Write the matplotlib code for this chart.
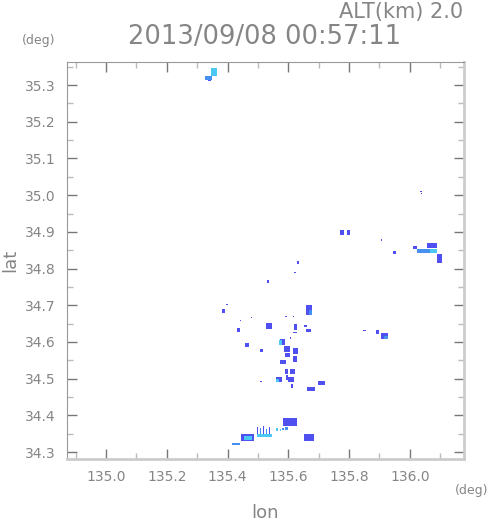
import numpy as np
import matplotlib
matplotlib.use('Agg')
from matplotlib import pyplot as plt
from matplotlib.colors import ListedColormap, BoundaryNorm

# echo cells: lon0, lon1, lat0, lat1, level (1=blue, 2=mid blue, 3=cyan)
lon0 = [135.345, 135.326, 135.335,
        136.033, 136.036, 135.905, 135.944, 136.010, 136.056, 136.023, 136.066, 136.089,
        135.770, 135.793, 135.845, 135.888, 135.905, 135.915,
        135.628, 135.618, 135.530, 135.395, 135.382, 135.658, 135.668, 135.441, 135.477,
        135.526, 135.431, 135.589, 135.615, 135.618, 135.615, 135.651, 135.658, 135.457,
        135.507, 135.572, 135.569, 135.605, 135.586, 135.615, 135.589, 135.615, 135.572,
        135.572, 135.589, 135.605, 135.592, 135.559, 135.559, 135.599, 135.507, 135.609,
        135.661, 135.697,
        135.414, 135.444, 135.454, 135.497, 135.507, 135.516, 135.526, 135.536, 135.497,
        135.559, 135.572, 135.579, 135.589, 135.582, 135.602, 135.651]
lon1 = [135.365, 135.350, 135.345,
        136.039, 136.040, 135.908, 135.954, 136.023, 136.089, 136.080, 136.089, 136.105,
        135.783, 135.803, 135.855, 135.898, 135.928, 135.928,
        135.635, 135.625, 135.536, 135.401, 135.391, 135.678, 135.678, 135.444, 135.480,
        135.546, 135.441, 135.595, 135.618, 135.628, 135.628, 135.661, 135.674, 135.470,
        135.516, 135.589, 135.579, 135.609, 135.605, 135.632, 135.605, 135.628, 135.592,
        135.579, 135.599, 135.622, 135.599, 135.579, 135.569, 135.618, 135.514, 135.615,
        135.688, 135.720,
        135.441, 135.487, 135.480, 135.501, 135.511, 135.520, 135.530, 135.540, 135.546,
        135.566, 135.576, 135.586, 135.599, 135.628, 135.625, 135.684]
lat0 = [35.325, 35.314, 35.312,
        35.008, 35.002, 34.876, 34.840, 34.853, 34.855, 34.842, 34.842, 34.815,
        34.891, 34.891, 34.630, 34.622, 34.608, 34.608,
        34.812, 34.787, 34.760, 34.700, 34.680, 34.673, 34.673, 34.656, 34.664,
        34.635, 34.627, 34.667, 34.667, 34.632, 34.623, 34.641, 34.627, 34.586,
        34.572, 34.592, 34.592, 34.608, 34.572, 34.567, 34.559, 34.545, 34.540,
        34.520, 34.513, 34.513, 34.496, 34.491, 34.491, 34.491, 34.492, 34.474,
        34.466, 34.483,
        34.319, 34.330, 34.333, 34.341, 34.341, 34.341, 34.341, 34.341, 34.341,
        34.357, 34.357, 34.360, 34.360, 34.371, 34.380, 34.330]
lat1 = [35.346, 35.325, 35.320,
        35.011, 35.005, 34.880, 34.848, 34.862, 34.869, 34.853, 34.853, 34.840,
        34.905, 34.905, 34.633, 34.632, 34.624, 34.615,
        34.820, 34.790, 34.769, 34.703, 34.690, 34.701, 34.687, 34.659, 34.667,
        34.651, 34.638, 34.670, 34.670, 34.649, 34.626, 34.646, 34.635, 34.597,
        34.581, 34.608, 34.605, 34.613, 34.589, 34.583, 34.570, 34.562, 34.551,
        34.522, 34.526, 34.526, 34.510, 34.504, 34.500, 34.504, 34.494, 34.485,
        34.477, 34.493,
        34.325, 34.349, 34.344, 34.368, 34.366, 34.370, 34.364, 34.368, 34.349,
        34.366, 34.364, 34.366, 34.368, 34.392, 34.393, 34.349]
level = [3, 2, 1,
         1, 1, 1, 1, 1, 1, 2, 3, 1,
         1, 1, 1, 1, 1, 2,
         1, 1, 1, 1, 1, 1, 2, 1, 1,
         1, 1, 1, 1, 1, 1, 1, 1, 1,
         1, 1, 3, 1, 1, 1, 1, 1, 1,
         1, 1, 1, 1, 1, 3, 1, 1, 1,
         1, 1,
         2, 1, 3, 1, 2, 1, 2, 1, 3,
         3, 3, 2, 2, 1, 1, 1]

xticks = [135.0, 135.2, 135.4, 135.6, 135.8, 136.0]
yticks = [34.3, 34.4, 34.5, 34.6, 34.7, 34.8, 34.9, 35.0, 35.1, 35.2, 35.3]

# grid
lon_e = np.arange(134.872, 136.178 + 1e-9, 1 / 304.)
lat_e = np.arange(34.281, 35.363 + 1e-9, 1 / 367.)
lon_c = 0.5 * (lon_e[1:] + lon_e[:-1])
lat_c = 0.5 * (lat_e[1:] + lat_e[:-1])
LON, LAT = np.meshgrid(lon_c, lat_c)
field = np.zeros(LON.shape)
for a, b, c, d, v in zip(lon0, lon1, lat0, lat1, level):
    m = (LON >= a) & (LON <= b) & (LAT >= c) & (LAT <= d)
    field[m] = np.maximum(field[m], v)
field = np.ma.masked_equal(field, 0)

cmap = ListedColormap(['#5050f0', '#4690f2', '#48c8f2'])
norm = BoundaryNorm([0.5, 1.5, 2.5, 3.5], 3)

fig = plt.figure(figsize=(4.91, 5.21), dpi=100)
ax = fig.add_axes([67 / 491., 62 / 521., 397 / 491., 397 / 521.])
ax.pcolormesh(lon_e, lat_e, field, cmap=cmap, norm=norm)
ax.set_xlim(134.872, 136.178)
ax.set_ylim(34.281, 35.363)

gray = '#858585'
ax.set_xticks(xticks)
ax.set_xticklabels(['%.1f' % t for t in xticks])
ax.set_yticks(yticks)
ax.set_yticklabels(['%.1f' % t for t in yticks])
ax.set_xticks([t + 0.1 for t in [134.8] + xticks], minor=True)
ax.set_yticks([t + 0.05 for t in yticks], minor=True)
ax.tick_params(which='major', direction='in', length=7, width=1, color='#777777',
               top=True, right=True, labelsize=10, labelcolor=gray, pad=8)
ax.tick_params(which='minor', direction='in', length=4, width=1, color='#bbbbbb',
               top=True, right=True)
for s in ['left', 'top']:
    ax.spines[s].set_color('#999999')
for s in ['right', 'bottom']:
    ax.spines[s].set_color('#cccccc')
    ax.spines[s].set_linewidth(2)

fig.text(0.943, 0.977, 'ALT(km) 2.0', ha='right', va='center', fontsize=15, color=gray)
fig.text(0.538, 0.929, '2013/09/08 00:57:11', ha='center', va='center', fontsize=18.5, color=gray)
fig.text(0.079, 0.923, '(deg)', ha='center', va='center', fontsize=9, color=gray)
fig.text(0.961, 0.058, '(deg)', ha='center', va='center', fontsize=9, color=gray)
fig.text(0.02, 0.501, 'lat', ha='center', va='center', rotation=90, fontsize=13, color=gray)
fig.text(0.54, 0.015, 'lon', ha='center', va='center', fontsize=13, color=gray)

fig.savefig('out.png', dpi=100)
